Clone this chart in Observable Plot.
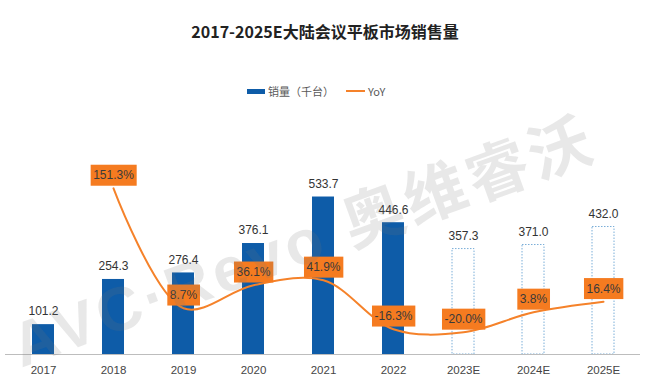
<!DOCTYPE html>
<html><head><meta charset="utf-8">
<script src="https://cdn.jsdelivr.net/npm/d3@7"></script>
<script src="https://cdn.jsdelivr.net/npm/@observablehq/plot@0.6"></script>
<style>
body{margin:0;background:#fff;font-family:"Liberation Sans","Noto Sans CJK SC",sans-serif;width:650px;height:392px;overflow:hidden;position:relative}
#title{position:absolute;top:19px;left:0;width:650px;text-align:center;font-family:"Noto Sans CJK SC",sans-serif;font-size:16px;font-weight:bold;color:#222;line-height:24px}
#legend{position:absolute;top:81px;left:247px;font-family:"Noto Sans CJK SC",sans-serif;font-size:11px;color:#595959;line-height:16px;white-space:nowrap}
#legend span{display:inline-block;vertical-align:middle}
#chart{position:absolute;top:100px;left:0}
#wm{position:absolute;left:14px;top:318px;height:60px;line-height:60px;font-family:"Liberation Sans","Noto Sans CJK SC",sans-serif;font-weight:bold;font-size:62px;color:rgba(120,120,120,0.17);transform:rotate(-20deg);transform-origin:0 50%;white-space:nowrap;pointer-events:none;letter-spacing:4px}
</style>
</head><body>
<div id="title">2017-2025E大陆会议平板市场销售量</div>
<div id="legend"><span style="width:18px;height:5px;background:#0e5ca8"></span><span style="margin-left:3px">销量（千台）</span><span style="width:19px;height:2px;background:#f5822a;margin-left:12px"></span><span style="margin-left:3px">YoY</span></div>
<div id="chart"></div>
<script>
const years = ["2017","2018","2019","2020","2021","2022","2023E","2024E","2025E"];
const sales = [101.2,254.3,276.4,376.1,533.7,446.6,357.3,371.0,432.0];
const estimated = [false,false,false,false,false,false,true,true,true];
const yoyYears = ["2018","2019","2020","2021","2022","2023E","2024E","2025E"];
const yoy = [151.3,8.7,36.1,41.9,-16.3,-20.0,3.8,16.4];

const salesData = years.map((y,i)=>({year:y, sales:sales[i], est:estimated[i]}));
const yoyData = yoyYears.map((y,i)=>({year:y, yoy:yoy[i]}));

// secondary axis: YoY domain mapped onto the sales domain
const salesDomain = [0, 793];
const yoyDomain = [-46.4, 232.1];
const toSales = d3.scaleLinear().domain(yoyDomain).range(salesDomain);

const plot = Plot.plot({
  width: 650, height: 292,
  marginLeft: 5, marginRight: 10, marginTop: 20, marginBottom: 38,
  style: {fontFamily: "Liberation Sans, Arial, sans-serif", background: "transparent"},
  x: {type: "band", domain: years, padding: 0},
  y: {domain: salesDomain, axis: null},
  marks: [
    Plot.barY(salesData.filter(d=>!d.est), {x:"year", y:"sales", fill:"#0e5ca8", insetLeft:24, insetRight:24}),
    Plot.barY(salesData.filter(d=>d.est), {x:"year", y:"sales", fill:"white", stroke:"#7aaed8", strokeWidth:1, strokeDasharray:"1.5,1.5", insetLeft:24, insetRight:24}),
    Plot.ruleY([0], {stroke:"#bdbdbd", strokeWidth:1.2}),
    Plot.axisX({tickSize:0, tickPadding:11, fontSize:11.5, fill:"#454545", label:null}),
    Plot.text(salesData, {x:"year", y:"sales", text:d=>d.sales.toFixed(1), dy:-13, fontSize:12, fill:"#333"}),
    Plot.line(yoyData, {x:"year", y:d=>toSales(d.yoy), curve:"catmull-rom", stroke:"#f5822a", strokeWidth:2}),
    Plot.text(yoyData, {x:"year", y:d=>toSales(d.yoy), text:d=>d.yoy.toFixed(1)+"%", dy:-13, fontSize:12, fill:"#3a3a3a"})
  ]
});
document.getElementById("chart").appendChild(plot);

// orange label boxes behind the YoY texts
const groups = plot.querySelectorAll('g[aria-label="text"]');
const yoyGroup = groups[groups.length-1];
yoyGroup.querySelectorAll("text").forEach(t=>{
  const b = t.getBBox();
  const r = document.createElementNS("http://www.w3.org/2000/svg","rect");
  const tr = t.getAttribute("transform");
  if (tr) r.setAttribute("transform", tr);
  r.setAttribute("x", b.x-2.5); r.setAttribute("y", b.y-3.5);
  r.setAttribute("width", b.width+5); r.setAttribute("height", b.height+7);
  r.setAttribute("fill", "#f57b20");
  yoyGroup.insertBefore(r, t);
});
</script>
<div id="wm">AVC·Revo 奥维睿沃</div>
</body></html>
